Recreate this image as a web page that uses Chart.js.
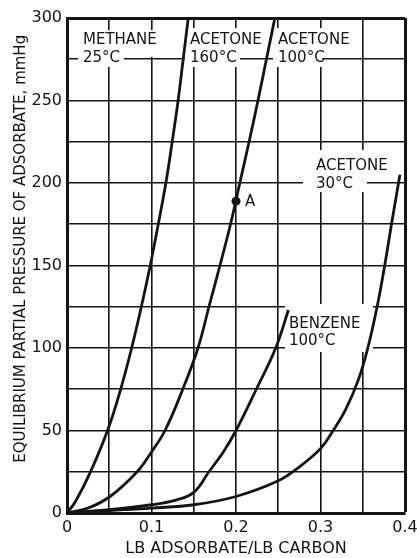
<!DOCTYPE html>
<html><head><meta charset="utf-8">
<script src="https://cdn.jsdelivr.net/npm/chart.js@4/dist/chart.umd.min.js"></script>
<style>html,body{margin:0;padding:0;background:#fff;}canvas{display:block;}</style>
</head><body>
<canvas id="c" width="417" height="558"></canvas>
<script>
// ---- data ----
const curve1X = [0, 0.01, 0.027, 0.048, 0.0635, 0.0765, 0.088, 0.0985, 0.108, 0.117, 0.1245, 0.1315, 0.1375, 0.1435];
const curve1Y = [0, 7, 24, 50, 75, 100, 125, 150, 175, 200, 225, 250, 275, 300];
const curve2X = [0, 0.025, 0.051, 0.083, 0.1, 0.116, 0.137, 0.155, 0.168, 0.181, 0.1935, 0.2045, 0.2155, 0.226, 0.236, 0.246];
const curve2Y = [0, 3, 10, 25, 37, 50, 75, 100, 125, 150, 175, 200, 225, 250, 275, 300];
const curve3X = [0, 0.05, 0.1, 0.13, 0.15, 0.168, 0.185, 0.2, 0.224, 0.247, 0.262];
const curve3Y = [0, 2, 5, 8, 12.5, 25, 37, 50, 75, 100, 123];
const curve4X = [0, 0.05, 0.1, 0.15, 0.2, 0.25, 0.275, 0.3, 0.315, 0.33, 0.345, 0.356, 0.367, 0.376, 0.384, 0.394];
const curve4Y = [0, 1.5, 3, 5, 10, 19.5, 28, 39, 50, 63, 81, 100, 125, 150, 175, 205];
const pointAX = [0.2];
const pointAY = [189];
const xTickLabels = ['0', '0.1', '0.2', '0.3', '0.4'];
const yTickLabels = ['0', '50', '100', '150', '200', '250', '300'];
const labelTexts = [['METHANE', '25°C'], ['ACETONE', '160°C'], ['ACETONE', '100°C'], ['ACETONE', '30°C'], ['BENZENE', '100°C'], ['A']];
const seriesNames = ['Acetone 160°C', 'Acetone 100°C', 'Benzene 100°C', 'Acetone 30°C', 'Point A'];

// ---- layout of in-plot labels (data units) ----
const labelPlacement = [
  {x: 0.0189, ys: [286.7, 275.8], masks: [[0.013, 0.1136, 292.7, 276.4], [0.013, 0.0675, 276.4, 270.3]]},
  {x: 0.1456, ys: [286.7, 275.8], masks: [[0.1396, 0.2308, 293.9, 276.4], [0.1396, 0.2047, 276.4, 270.3]]},
  {x: 0.2497, ys: [286.7, 275.8], masks: [[0.2438, 0.3373, 293.9, 276.4], [0.2438, 0.3018, 276.4, 270.3]]},
  {x: 0.2947, ys: [210.3, 199.4], masks: [[0.2793, 0.3882, 220, 201.5], [0.2793, 0.355, 201.5, 194.5]]},
  {x: 0.2627, ys: [114.5, 104.2], masks: [[0.258, 0.3621, 126.7, 97.6]]},
  {x: 0.2107, ys: [188.5], masks: []}
];

const toPts = (xs, ys) => xs.map((x, i) => ({x: x, y: ys[i]}));
const FONT = '"DejaVu Sans", sans-serif';
const INK = '#141414';

const labelPlugin = {
  id: 'plotLabels',
  beforeDatasetsDraw(chart) {
    const {ctx, scales: {x, y}} = chart;
    ctx.save();
    ctx.fillStyle = '#ffffff';
    labelPlacement.forEach(p => p.masks.forEach(m => {
      const x1 = x.getPixelForValue(m[0]), x2 = x.getPixelForValue(m[1]);
      const y1 = y.getPixelForValue(m[2]), y2 = y.getPixelForValue(m[3]);
      ctx.fillRect(x1, y1, x2 - x1, y2 - y1);
    }));
    ctx.restore();
  },
  afterDatasetsDraw(chart) {
    const {ctx, scales: {x, y}} = chart;
    ctx.save();
    ctx.font = '15px ' + FONT;
    ctx.fillStyle = INK;
    ctx.textAlign = 'left';
    ctx.textBaseline = 'middle';
    labelPlacement.forEach((p, i) => {
      labelTexts[i].forEach((t, j) => {
        ctx.fillText(t, x.getPixelForValue(p.x), y.getPixelForValue(p.ys[j]));
      });
    });
    ctx.restore();
  }
};

const curveStyle = {
  showLine: true, borderColor: INK, backgroundColor: INK, borderWidth: 2.8,
  pointRadius: 0, pointHoverRadius: 0, tension: 0.4, fill: false
};

new Chart(document.getElementById('c'), {
  type: 'scatter',
  data: {
    datasets: [
      Object.assign({label: seriesNames[0], data: toPts(curve1X, curve1Y)}, curveStyle),
      Object.assign({label: seriesNames[1], data: toPts(curve2X, curve2Y)}, curveStyle),
      Object.assign({label: seriesNames[2], data: toPts(curve3X, curve3Y)}, curveStyle),
      Object.assign({label: seriesNames[3], data: toPts(curve4X, curve4Y)}, curveStyle),
      {label: seriesNames[4], data: toPts(pointAX, pointAY), showLine: false,
       pointRadius: 4.5, pointBackgroundColor: INK, pointBorderColor: INK, borderWidth: 0}
    ]
  },
  options: {
    responsive: false,
    animation: false,
    devicePixelRatio: 1,
    layout: {padding: {top: 18, right: 12, bottom: 0, left: 0}},
    plugins: {legend: {display: false}, tooltip: {enabled: false}, title: {display: false}},
    scales: {
      x: {
        type: 'linear', min: 0, max: 0.4,
        afterFit: s => { s.height = 45; s.paddingLeft = 0; s.paddingRight = 0; },
        grid: {color: INK, lineWidth: c => (c.index === 8 ? 3 : 1.6), drawTicks: false},
        border: {display: true, color: INK, width: 3},
        ticks: {
          stepSize: 0.05, padding: 5, color: INK, font: {family: FONT, size: 16},
          autoSkip: false, maxRotation: 0,
          callback: (v, i) => (i % 2 === 0 ? xTickLabels[i / 2] : '')
        },
        title: {display: true, text: 'LB ADSORBATE/LB CARBON', color: INK,
                font: {family: FONT, size: 16}, padding: {top: 0, bottom: 0}}
      },
      y: {
        type: 'linear', min: 0, max: 300,
        afterFit: s => { s.width = 67; },
        grid: {color: INK, lineWidth: c => (c.index === 12 ? 3 : 1.6), drawTicks: false},
        border: {display: true, color: INK, width: 3},
        ticks: {
          stepSize: 25, padding: 5, color: INK, font: {family: FONT, size: 16},
          autoSkip: false,
          callback: (v, i) => (i % 2 === 0 ? yTickLabels[i / 2] : '')
        },
        title: {display: true, text: '\u00a0\u00a0\u00a0\u00a0\u00a0\u00a0\u00a0EQUILIBRIUM PARTIAL PRESSURE OF ADSORBATE, mmHg',
                color: INK, font: {family: FONT, size: 15}, padding: {top: 12, bottom: 0}}
      }
    }
  },
  plugins: [labelPlugin]
});
</script>
</body></html>
